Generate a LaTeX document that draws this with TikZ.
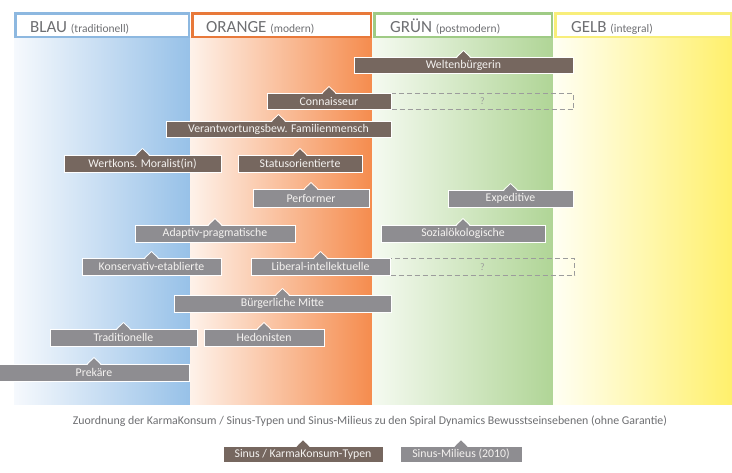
\documentclass[tikz,border=0pt]{standalone}
\usepackage{fontspec}
\setmainfont{Carlito}
\usetikzlibrary{calc}
\definecolor{txtgrey}{HTML}{6E6F72}
\definecolor{darkbox}{HTML}{76675F}
\definecolor{lightbox}{HTML}{8E8D91}
\definecolor{boxtext}{HTML}{F4F2F0}
\definecolor{dashgrey}{HTML}{9C9C9C}
\definecolor{blueA}{HTML}{F6F9FD}\definecolor{blueB}{HTML}{D3E3F4}\definecolor{blueC}{HTML}{97C1E8}
\definecolor{orA}{HTML}{FEF2EA}\definecolor{orB}{HTML}{FBD0B4}\definecolor{orC}{HTML}{F58C4E}
\definecolor{grA}{HTML}{F5FAF1}\definecolor{grB}{HTML}{DDEDD2}\definecolor{grC}{HTML}{B0D596}
\definecolor{yeA}{HTML}{FFFFF4}\definecolor{yeB}{HTML}{FFF9C6}\definecolor{yeC}{HTML}{FFF06C}
\definecolor{blueL}{HTML}{8DB8E0}\definecolor{orL}{HTML}{E8793A}\definecolor{grL}{HTML}{9FCB85}\definecolor{yeL}{HTML}{F8EE7A}
\tikzset{
  mil/.style={draw=white, line width=0.7pt, inner sep=0pt, outer sep=0pt, anchor=north west,
    text=boxtext, font=\fontsize{11.8}{13}\selectfont},
  darkmil/.style={mil, fill=darkbox},
  lightmil/.style={mil, fill=lightbox},
  dashbox/.style={draw=dashgrey, dash pattern=on 5pt off 3pt, line width=1.1pt, inner sep=0pt,
    anchor=north west, text=dashgrey, font=\fontsize{10}{11}\selectfont},
  head/.style={line width=2.5pt, fill=white},
  headbig/.style={anchor=base west, inner sep=0pt, text=txtgrey, font=\fontsize{17}{20}\selectfont},
}
% name, x1, y1, x2, y2, colour, text
\newcommand\milbox[7]{%
  \node[#6mil, minimum width={#4pt-#2pt}, minimum height={#5pt-#3pt}] (#1) at (#2,#3) {#7};
  \fill[#6box] ($(#1.north)+(-6.5,0.8)$) -- ($(#1.north)+(0,-6)$) -- ($(#1.north)+(6.5,0.8)$) -- cycle;
  \draw[white, line width=0.7pt] ($(#1.north)+(-7,0)$) -- ($(#1.north)+(0,-6.5)$) -- ($(#1.north)+(7,0)$);
}
\begin{document}
\begin{tikzpicture}[x=1pt, y=-1pt]
\useasboundingbox (0,0) rectangle (732,472);
\fill[white] (0,0) rectangle (732,472);
% gradients
\shade[left color=blueA, middle color=blueB, right color=blueC] (14,37) rectangle (190,404);
\shade[left color=orA, middle color=orB, right color=orC] (190,37) rectangle (372,404);
\shade[left color=grA, middle color=grB, right color=grC] (372,37) rectangle (553,404);
\shade[left color=yeA, middle color=yeB, right color=yeC] (553,37) rectangle (732,404);
% headers
\draw[head, draw=blueL] (15.25,13.25) rectangle (188.75,36.75);
\draw[head, draw=orL] (192.25,13.25) rectangle (370.75,36.75);
\draw[head, draw=grL] (374.25,13.25) rectangle (551.75,36.75);
\draw[head, draw=yeL] (555.25,13.25) rectangle (730.75,36.75);
\node[headbig] (hblau) at (30,32) {BLAU {\fontsize{11.5}{13}\selectfont(traditionell)}};
\node[headbig] (horange) at (206,32) {ORANGE {\fontsize{11.5}{13}\selectfont(modern)}};
\node[headbig] (hgruen) at (390,32) {GRÜN {\fontsize{11.5}{13}\selectfont(postmodern)}};
\node[headbig] (hgelb) at (571,32) {GELB {\fontsize{11.5}{13}\selectfont(integral)}};
% dashed boxes
\node[dashbox, minimum width=182pt, minimum height=16pt] (q1) at (391,93) {?};
\node[dashbox, minimum width=184pt, minimum height=17pt] (q2) at (390,258) {?};
% boxes
\milbox{welt}{354}{57}{573}{73}{dark}{Weltenbürgerin}
\milbox{conn}{267}{93}{391}{109}{dark}{Connaisseur}
\milbox{vera}{166}{121}{391}{137}{dark}{Verantwortungsbew. Familienmensch}
\milbox{wert}{64}{155}{221}{172}{dark}{Wertkons. Moralist(in)}
\milbox{stat}{238}{155}{362}{172}{dark}{Statusorientierte}
\milbox{perf}{253}{189}{369}{207}{light}{Performer}
\milbox{expe}{448}{190}{573}{207}{light}{Expeditive}
\milbox{adap}{135}{225}{295}{242}{light}{Adaptiv-pragmatische}
\milbox{sozi}{381}{225}{545}{242}{light}{Sozialökologische}
\milbox{kons}{82}{258}{221}{275}{light}{Konservativ-etablierte}
\milbox{libe}{251}{258}{390}{275}{light}{Liberal-intellektuelle}
\milbox{buer}{174}{295}{391}{312}{light}{Bürgerliche Mitte}
\milbox{trad}{50}{329}{197}{346}{light}{Traditionelle}
\milbox{hedo}{204}{329}{324}{346}{light}{Hedonisten}
\milbox{prek}{-1}{364}{189}{381}{light}{Prekäre}
% caption
\node[text=txtgrey, font=\fontsize{11.85}{13}\selectfont] (cap) at (370,421) {Zuordnung der KarmaKonsum / Sinus-Typen und Sinus-Milieus zu den Spiral Dynamics Bewusstseinsebenen (ohne Garantie)};
% legend
\milbox{legd}{223}{446}{383}{462}{dark}{Sinus / KarmaKonsum-Typen}
\milbox{legl}{400}{446}{522}{462}{light}{Sinus-Milieus (2010)}
\end{tikzpicture}
\end{document}
